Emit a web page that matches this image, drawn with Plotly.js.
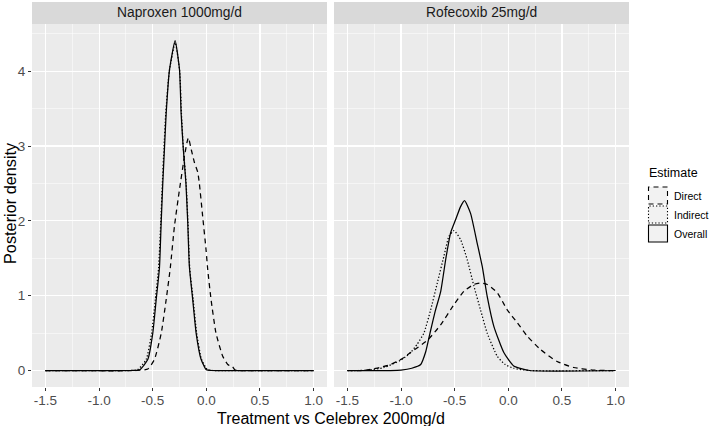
<!DOCTYPE html>
<html>
<head>
<meta charset="utf-8">
<script src="https://cdn.plot.ly/plotly-3.0.1.min.js"></script>
<style>
html,body{margin:0;padding:0;background:#fff;}
#chart{width:709px;height:426px;}
</style>
</head>
<body>
<div id="chart"></div>
<script>
// ---- Data ----
const panels = ["Naproxen 1000mg/d", "Rofecoxib 25mg/d"];
const seriesNames = ["Direct", "Indirect", "Overall"];
const legendTitle = "Estimate";
const xTitle = "Treatment vs Celebrex 200mg/d";
const yTitle = "Posterior density";
const xTickVals = [-1.5, -1.0, -0.5, 0.0, 0.5, 1.0];
const xTickText = ["-1.5", "-1.0", "-0.5", "0.0", "0.5", "1.0"];
const yTickVals = [0, 1, 2, 3, 4];

// Naproxen 1000mg/d
const napDirectX = [-1.5, -0.65, -0.545, -0.483, -0.42, -0.374, -0.336, -0.297, -0.25, -0.204, -0.18, -0.167, -0.14, -0.111, -0.08, -0.065, -0.034, -0.003, 0.013, 0.044, 0.09, 0.153, 0.2, 0.225, 0.245, 0.265, 0.3, 1.0];
const napDirectY = [0, 0, 0.02, 0.15, 0.5, 0.95, 1.37, 1.93, 2.42, 2.86, 3.05, 3.11, 2.95, 2.78, 2.65, 2.5, 2.06, 1.62, 1.35, 0.95, 0.5, 0.19, 0.08, 0.06, 0.05, 0.01, 0, 0];
const napIndirectX = [-1.5, -0.72, -0.64, -0.56, -0.51, -0.475, -0.445, -0.425, -0.41, -0.395, -0.378, -0.345, -0.29, -0.248, -0.232, -0.214, -0.188, -0.171, -0.155, -0.123, -0.09, -0.045, 0.01, 0.06, 1.0];
const napIndirectY = [0, 0, 0.01, 0.15, 0.5, 0.95, 1.37, 1.97, 2.5, 2.97, 3.44, 4.0, 4.38, 4.0, 3.44, 2.97, 2.5, 1.97, 1.37, 0.95, 0.5, 0.15, 0.01, 0, 0];
const napOverallX = [-1.5, -0.7, -0.62, -0.545, -0.499, -0.467, -0.437, -0.421, -0.406, -0.39, -0.374, -0.343, -0.291, -0.25, -0.235, -0.215, -0.19, -0.173, -0.158, -0.127, -0.095, -0.049, 0.0, 0.05, 1.0];
const napOverallY = [0, 0, 0.01, 0.15, 0.5, 0.95, 1.37, 1.97, 2.5, 2.97, 3.44, 4.02, 4.41, 4.02, 3.44, 2.97, 2.5, 1.97, 1.39, 0.95, 0.5, 0.15, 0.01, 0, 0];

// Rofecoxib 25mg/d
const rofDirectX = [-1.5, -1.35, -1.31, -1.2, -1.097, -1.0, -0.911, -0.75, -0.631, -0.507, -0.414, -0.321, -0.26, -0.197, -0.103, -0.01, 0.083, 0.176, 0.30, 0.455, 0.61, 0.77, 0.9, 1.0];
const rofDirectY = [0, 0, 0.01, 0.04, 0.08, 0.15, 0.24, 0.41, 0.61, 0.88, 1.06, 1.15, 1.17, 1.15, 1.04, 0.81, 0.64, 0.46, 0.28, 0.12, 0.04, 0.01, 0, 0];
const rofIndirectX = [-1.5, -1.4, -1.3, -1.159, -1.0, -0.911, -0.85, -0.787, -0.724, -0.662, -0.6, -0.554, -0.507, -0.445, -0.383, -0.321, -0.259, -0.197, -0.103, -0.03, 0.05, 0.2, 1.0];
const rofIndirectY = [0, 0, 0.005, 0.04, 0.14, 0.24, 0.35, 0.5, 0.81, 1.17, 1.53, 1.79, 1.87, 1.75, 1.48, 1.13, 0.81, 0.5, 0.19, 0.08, 0.03, 0, 0];
const rofOverallX = [-1.5, -1.1, -1.0, -0.9, -0.817, -0.77, -0.73, -0.68, -0.631, -0.582, -0.538, -0.49, -0.445, -0.408, -0.352, -0.29, -0.243, -0.197, -0.135, -0.042, 0.05, 0.2, 1.0];
const rofOverallY = [0, 0, 0.005, 0.03, 0.08, 0.25, 0.5, 0.8, 1.05, 1.5, 1.84, 2.02, 2.19, 2.27, 2.1, 1.70, 1.39, 0.99, 0.59, 0.24, 0.06, 0, 0];

// ---- Styling ----
const W = 709, H = 426;
const px = v => v / W;
const py = v => 1 - v / H;
const FONT = "Liberation Sans, Arial, Helvetica, sans-serif";
const dashes = {Direct: "5px,4px", Indirect: "1.3px,2px", Overall: "solid"};
const lineW = 1.25;

function tr(x, y, name, xa) {
  return {
    type: "scatter", mode: "lines", x: x, y: y, name: name,
    xaxis: xa, yaxis: "y", showlegend: false, hoverinfo: "skip",
    line: {color: "#000000", width: lineW, dash: dashes[name], shape: "spline", smoothing: 0.5}
  };
}

const data = [
  tr(napDirectX, napDirectY, "Direct", "x"),
  tr(napIndirectX, napIndirectY, "Indirect", "x"),
  tr(napOverallX, napOverallY, "Overall", "x"),
  tr(rofDirectX, rofDirectY, "Direct", "x2"),
  tr(rofIndirectX, rofIndirectY, "Indirect", "x2"),
  tr(rofOverallX, rofOverallY, "Overall", "x2")
];

const xRange = [-1.625, 1.125];
const yRange = [-0.2205, 4.6305];
const TICK = 13.5;

function xaxisDef(domain) {
  return {
    domain: domain, range: xRange, anchor: "y",
    tickvals: xTickVals, ticktext: xTickText,
    showgrid: true, gridcolor: "#ffffff", gridwidth: 1.1,
    minor: {dtick: 0.25, tick0: -1.5, showgrid: true, gridcolor: "#ffffff", gridwidth: 0.5, ticks: ""},
    zeroline: false, showline: false,
    ticks: "outside", ticklen: 3, tickwidth: 1, tickcolor: "#333333",
    ticklabelstandoff: -2,
    tickfont: {family: FONT, size: TICK, color: "#4D4D4D"},
    fixedrange: true
  };
}

const shapes = [
  {type: "rect", xref: "paper", yref: "paper", x0: px(32), x1: px(327), y0: py(24), y1: py(2), fillcolor: "#D9D9D9", line: {width: 0}, layer: "below"},
  {type: "rect", xref: "paper", yref: "paper", x0: px(334), x1: px(629), y0: py(24), y1: py(2), fillcolor: "#D9D9D9", line: {width: 0}, layer: "below"}
];
const annotations = [
  {text: panels[0], xref: "paper", yref: "paper", x: px(179.5), y: py(13), showarrow: false, xanchor: "center", yanchor: "middle", font: {family: FONT, size: 13.8, color: "#1A1A1A"}},
  {text: panels[1], xref: "paper", yref: "paper", x: px(481.5), y: py(13), showarrow: false, xanchor: "center", yanchor: "middle", font: {family: FONT, size: 13.8, color: "#1A1A1A"}},
  {text: xTitle, xref: "paper", yref: "paper", x: px(330.5), y: py(418), showarrow: false, xanchor: "center", yanchor: "middle", font: {family: FONT, size: 16, color: "#000000"}},
  {text: yTitle, xref: "paper", yref: "paper", x: px(10), y: py(203), showarrow: false, textangle: -90, xanchor: "center", yanchor: "middle", font: {family: FONT, size: 16.3, color: "#000000"}},
  {text: legendTitle, xref: "paper", yref: "paper", x: px(647), y: py(173), showarrow: false, xanchor: "left", yanchor: "middle", font: {family: FONT, size: 12.5, color: "#000000"}}
];
const keyTops = [187, 206, 225];
seriesNames.forEach((n, i) => {
  shapes.push({type: "rect", xref: "paper", yref: "paper", x0: px(648.5), x1: px(667.5), y0: py(keyTops[i] + 17), y1: py(keyTops[i]),
    fillcolor: "#F2F2F2", line: {color: "#000000", width: 1.1, dash: dashes[n]}});
  annotations.push({text: n, xref: "paper", yref: "paper", x: px(672), y: py(keyTops[i] + 8.5), showarrow: false,
    xanchor: "left", yanchor: "middle", font: {family: FONT, size: 10.5, color: "#000000"}});
});

const layout = {
  width: W, height: H,
  margin: {l: 0, r: 0, t: 0, b: 0, pad: 0},
  paper_bgcolor: "#ffffff", plot_bgcolor: "#EBEBEB",
  showlegend: false,
  xaxis: xaxisDef([px(32), px(327)]),
  xaxis2: xaxisDef([px(334), px(629)]),
  yaxis: {
    domain: [py(387), py(24)], range: yRange, anchor: "x",
    tickvals: yTickVals,
    showgrid: true, gridcolor: "#ffffff", gridwidth: 1.1,
    minor: {dtick: 0.5, tick0: 0, showgrid: true, gridcolor: "#ffffff", gridwidth: 0.5, ticks: ""},
    zeroline: false, showline: false,
    ticks: "outside", ticklen: 3, tickwidth: 1, tickcolor: "#333333",
    tickfont: {family: FONT, size: TICK, color: "#4D4D4D"},
    fixedrange: true
  },
  shapes: shapes,
  annotations: annotations
};

Plotly.newPlot("chart", data, layout, {displayModeBar: false, staticPlot: true});
</script>
</body>
</html>
